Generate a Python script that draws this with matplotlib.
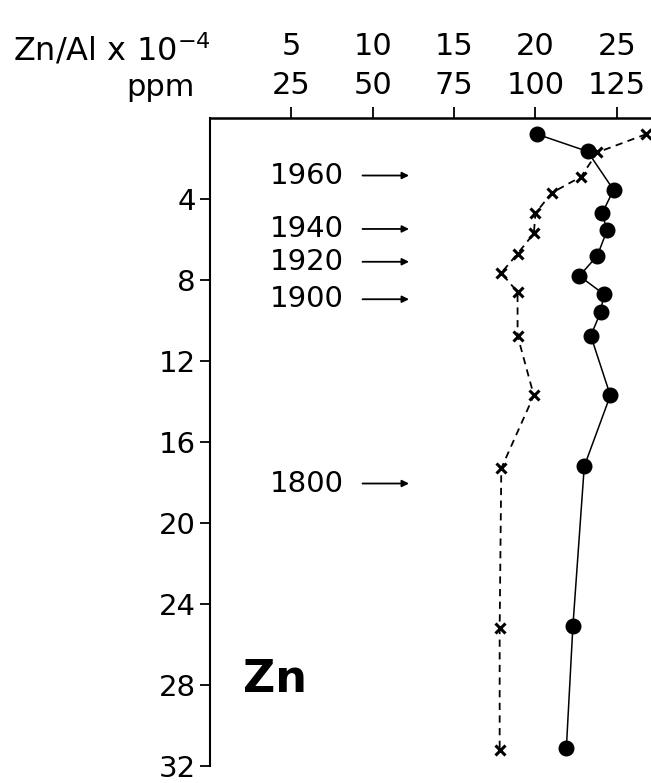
import matplotlib
matplotlib.use("Agg")
import matplotlib.pyplot as plt

# depth profile of Zn (ppm) in a sediment core
depth_dot = [0.8, 1.65, 3.55, 4.7, 5.55, 6.8, 7.8, 8.7, 9.6, 10.75, 13.7, 17.2, 25.1, 31.1]
ppm_dot = [100.5, 116, 124, 120.5, 122, 119, 113.5, 121, 120, 117, 123, 115, 111.5, 109.5]

depth_x = [0.8, 1.7, 2.9, 3.7, 4.7, 5.7, 6.7, 7.65, 8.6, 10.75, 13.7, 17.3, 25.2, 31.2]
ppm_x = [134, 119, 114, 105, 100, 99.5, 94.5, 89.5, 94.5, 94.5, 99.5, 89.5, 89, 89]

ppm_ticks = [25, 50, 75, 100, 125]
znal_ticks = [5, 10, 15, 20, 25]
depth_ticks = [4, 8, 12, 16, 20, 24, 28, 32]

years = ["1960", "1940", "1920", "1900", "1800"]
year_depth = [2.84, 5.48, 7.1, 8.95, 18.05]

W, H = 651, 783
fig = plt.figure(figsize=(W / 100, H / 100), dpi=100)
ax = fig.add_axes([210 / W, 1 - 766 / H, 1 - 210 / W, (766 - 118) / H])

ax.plot(ppm_dot, depth_dot, "-", color="k", lw=1.1, marker="o", ms=10.5)
ax.plot(ppm_x, depth_x, "--", color="k", lw=1.3, dashes=(4, 3),
        marker="x", ms=7.5, mew=2.2)

ax.set_xlim(0, 135.5)
ax.set_ylim(32, 0)

ax.spines["right"].set_visible(False)
ax.spines["bottom"].set_visible(False)
ax.spines["top"].set_linewidth(1.8)
ax.spines["left"].set_linewidth(1.5)

ax.xaxis.tick_top()
ax.set_xticks(ppm_ticks)
ax.set_xticklabels([str(v) for v in ppm_ticks])
ax.tick_params(axis="x", direction="out", length=8, width=1.3, pad=5, labelsize=22)
ax.set_yticks(depth_ticks)
ax.tick_params(axis="y", direction="out", length=7, width=1.3, pad=3, labelsize=21)

sec = ax.secondary_xaxis("top", functions=(lambda x: x / 5, lambda x: x * 5))
sec.set_xticks(znal_ticks)
sec.tick_params(length=0, pad=41, labelsize=22)
sec.spines["top"].set_visible(False)

fig.text(13 / W, 1 - 50 / H, r"Zn/Al x 10$^{-4}$", fontsize=23, va="center", ha="left")
fig.text(195 / W, 1 - 87 / H, "ppm", fontsize=22, va="center", ha="right")

for yr, d in zip(years, year_depth):
    ax.text(41, d, yr, fontsize=21, ha="right", va="center")
    ax.annotate("", xy=(62, d), xytext=(46, d),
                arrowprops=dict(arrowstyle="-|>", lw=1.3, color="k", mutation_scale=10))

fig.text(275 / W, 1 - 680 / H, "Zn", fontsize=32, fontweight="bold", ha="center", va="center")

fig.savefig("out.png", dpi=100)
